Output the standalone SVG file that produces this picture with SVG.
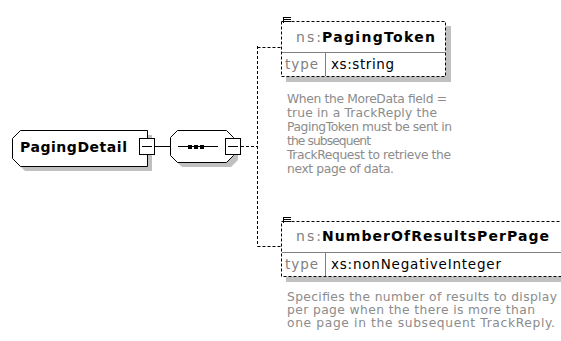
<svg xmlns="http://www.w3.org/2000/svg" width="561" height="341" viewBox="0 0 561 341">
<style>
.bg{fill:#fff}
.sh{fill:#c0c0c0}
.box{fill:#fff;stroke:#000;stroke-width:1}
.dbox{fill:#fff;stroke:#000;stroke-width:1;stroke-dasharray:3,2}
.sep{stroke:#808080;stroke-width:1;fill:none}
.ln{stroke:#000;stroke-width:1;fill:none}
.dl{stroke:#000;stroke-width:1;fill:none;stroke-dasharray:3,2}
.nm{font-family:"DejaVu Sans",Verdana,sans-serif;font-weight:bold;font-size:14px;fill:#000}
.ns{font-family:"DejaVu Sans",Verdana,sans-serif;font-size:14px;fill:#808080}
.ty{font-family:"DejaVu Sans",Verdana,sans-serif;font-size:13.5px;fill:#808080}
.tv{font-family:"DejaVu Sans",Verdana,sans-serif;font-size:13.5px;fill:#000}
.doc{font-family:"DejaVu Sans",Verdana,sans-serif;font-size:12.3px;fill:#8c8c8c}
</style>
<rect class="bg" x="0" y="0" width="561" height="341"/>
<g id="connectors">
<line class="ln" x1="154" y1="146.5" x2="170" y2="146.5"/>
<line class="dl" x1="241" y1="146.5" x2="257.5" y2="146.5"/>
<line class="dl" x1="257.5" y1="46" x2="257.5" y2="246.5"/>
<line class="dl" x1="257.5" y1="47.5" x2="281" y2="47.5"/>
<line class="dl" x1="257.5" y1="246.5" x2="281" y2="246.5"/>
</g>
<g id="PagingDetail">
<path class="sh" d="M25,135 H152 V171 H25 L17,163 V143 Z"/>
<path class="box" d="M20.5,130.5 H147.5 V166.5 H20.5 L12.5,158.5 V138.5 Z"/>
<text class="nm" x="20" y="151.5" textLength="107">PagingDetail</text>
<rect class="box" x="139.5" y="138.5" width="15" height="16"/>
<line class="ln" x1="142" y1="146.5" x2="152" y2="146.5"/>
</g>
<g id="sequence">
<path class="sh" d="M182,135 H231 L238,142 V160 L231,167 H182 L175,160 V142 Z"/>
<path class="box" d="M177.5,130.5 H226.5 L233.5,137.5 V155.5 L226.5,162.5 H177.5 L170.5,155.5 V137.5 Z"/>
<line class="ln" x1="178" y1="146.5" x2="218" y2="146.5"/>
<rect x="188" y="145" width="4" height="4" fill="#000"/>
<rect x="194" y="145" width="4" height="4" fill="#000"/>
<rect x="200" y="145" width="4" height="4" fill="#000"/>
<rect class="box" x="225.5" y="138.5" width="15" height="16"/>
<line class="ln" x1="228" y1="146.5" x2="238" y2="146.5"/>
</g>
<g id="PagingToken">
<rect class="sh" x="286" y="26" width="165" height="56"/>
<rect class="dbox" x="281.5" y="21.5" width="164" height="55"/>
<line class="sep" x1="282" y1="52.5" x2="445" y2="52.5"/>
<line class="sep" x1="325.5" y1="53" x2="325.5" y2="76"/>
<path class="ln" d="M284,17.5 H291 M284,19.5 H291 M284,21.5 H291 M283.5,17 V23"/>
<text class="ns" x="296" y="41.5" textLength="25">ns:</text>
<text class="nm" x="322" y="41.5" textLength="113">PagingToken</text>
<text class="ty" x="285" y="69" textLength="33">type</text>
<text class="tv" x="331" y="69" textLength="63">xs:string</text>
<text class="doc">
<tspan x="287" y="103" textLength="160">When the MoreData field =</tspan>
<tspan x="287" y="117" textLength="150">true in a TrackReply the</tspan>
<tspan x="287" y="131" textLength="165">PagingToken must be sent in</tspan>
<tspan x="287" y="145" textLength="84">the subsequent</tspan>
<tspan x="287" y="159" textLength="164">TrackRequest to retrieve the</tspan>
<tspan x="287" y="173" textLength="107">next page of data.</tspan>
</text>
</g>
<g id="NumberOfResultsPerPage">
<rect class="sh" x="286" y="226" width="290" height="56"/>
<rect class="dbox" x="281.5" y="221.5" width="285" height="55"/>
<line class="sep" x1="282" y1="252.5" x2="566" y2="252.5"/>
<line class="sep" x1="325.5" y1="253" x2="325.5" y2="276"/>
<path class="ln" d="M284,217.5 H291 M284,219.5 H291 M284,221.5 H291 M283.5,217 V223"/>
<text class="ns" x="296" y="240.5" textLength="25">ns:</text>
<text class="nm" x="322" y="240.5" textLength="227">NumberOfResultsPerPage</text>
<text class="ty" x="285" y="269" textLength="33">type</text>
<text class="tv" x="331" y="269" textLength="170">xs:nonNegativeInteger</text>
<text class="doc">
<tspan x="287" y="301" textLength="270">Specifies the number of results to display</tspan>
<tspan x="287" y="314" textLength="248">per page when the there is more than</tspan>
<tspan x="287" y="327" textLength="268">one page in the subsequent TrackReply.</tspan>
</text>
</g>
</svg>
